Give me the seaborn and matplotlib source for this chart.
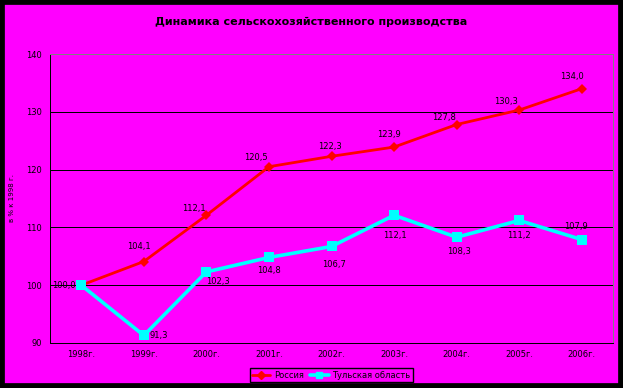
import numpy as np
import pandas as pd
import seaborn as sns
import matplotlib.pyplot as plt
from matplotlib.patches import Rectangle

years = ['1998г.', '1999г.', '2000г.', '2001г.', '2002г.', '2003г.', '2004г.', '2005г.', '2006г.']
russia = [100.0, 104.1, 112.1, 120.5, 122.3, 123.9, 127.8, 130.3, 134.0]
tula = [100.0, 91.3, 102.3, 104.8, 106.7, 112.1, 108.3, 111.2, 107.9]
series_names = ['Россия', 'Тульская область']

# смещения подписей (в пикселях)
russia_off = [(-17, 0), (-5, 15), (-12, 7), (-13, 9), (-2, 10), (-5, 13), (-13, 7), (-13, 9), (-10, 12)]
tula_off = [None, (15, 0), (12, -10), (0, -13), (3, -18), (1, -20), (2, -14), (0, -15), (-6, 13)]

df = pd.DataFrame({
    'x': list(range(len(years))) * 2,
    'value': russia + tula,
    'series': [series_names[0]] * len(years) + [series_names[1]] * len(years),
})

sns.set_style('white')
plt.rcParams['font.family'] = ['DejaVu Sans']
plt.rcParams['text.color'] = 'black'
plt.rcParams['xtick.color'] = 'black'
plt.rcParams['ytick.color'] = 'black'
plt.rcParams['axes.labelcolor'] = 'black'
mag = '#FF00FF'
px = 0.72  # 1 пиксель в пунктах

fig = plt.figure(figsize=(6.23, 3.88), dpi=100, facecolor=mag)
fig.patches.append(Rectangle((0, 0), 1, 1, transform=fig.transFigure, fill=False,
                             edgecolor='black', linewidth=7, zorder=10))
ax = fig.add_axes([50 / 623, 1 - 343 / 388, 563 / 623, 289 / 388])
ax.set_facecolor(mag)

sns.lineplot(data=df, x='x', y='value', hue='series', style='series',
             palette={'Россия': '#FF0000', 'Тульская область': '#00FFFF'},
             markers={'Россия': 'D', 'Тульская область': 's'},
             dashes=False, markersize=6, markeredgewidth=0, linewidth=2,
             sort=False, ax=ax, legend=False)
lines = ax.get_lines()
lines[0].set_markersize(5)
lines[1].set_markersize(7)
lines[1].set_linewidth(2.6)

for i, v in enumerate(russia):
    ax.annotate(f'{v:.1f}'.replace('.', ','), (i, v), xytext=russia_off[i],
                textcoords='offset pixels', ha='center', va='center', fontsize=6)
for i, v in enumerate(tula):
    if tula_off[i] is None:
        continue
    ax.annotate(f'{v:.1f}'.replace('.', ','), (i, v), xytext=tula_off[i],
                textcoords='offset pixels', ha='center', va='center', fontsize=6)

ax.set_xlim(-0.5, len(years) - 0.5)
ax.set_ylim(90, 140)
ax.set_yticks(range(90, 141, 10))
ax.set_xticks(range(len(years)))
ax.set_xticklabels(years)
ax.set_xticks(np.arange(-0.5, len(years)), minor=True)
ax.tick_params(axis='x', which='major', length=0, labelsize=6, pad=5)
ax.tick_params(axis='x', which='minor', length=3, width=px, color='black', direction='out')
ax.tick_params(axis='y', length=3, width=px, color='black', direction='out', labelsize=6, pad=3)
for y in range(100, 140, 10):
    ax.axhline(y, color='black', linewidth=px, zorder=0)
ax.spines['left'].set_color('black')
ax.spines['bottom'].set_color('black')
ax.spines['top'].set_color('#808080')
ax.spines['right'].set_color('#808080')
for s in ax.spines.values():
    s.set_linewidth(px)
ax.set_xlabel('')
ax.set_ylabel('в % к 1998 г.', fontsize=5, labelpad=8)

fig.text(0.5, 1 - 22 / 388, 'Динамика сельскохозяйственного производства',
         ha='center', va='center', fontsize=8, fontweight='bold')

handles = [plt.Line2D([], [], color='#FF0000', marker='D', markersize=4, linewidth=2),
           plt.Line2D([], [], color='#00FFFF', marker='s', markersize=5, linewidth=2.6)]
leg = fig.legend(handles, series_names, loc='center', bbox_to_anchor=(331 / 623, 1 - 375 / 388),
                 ncol=2, fontsize=6, frameon=True, fancybox=False, framealpha=1,
                 facecolor=mag, edgecolor='black', handlelength=2.2, borderpad=0.3,
                 columnspacing=0.8, handletextpad=0.4)
leg.get_frame().set_linewidth(1)

fig.savefig('out.png', dpi=100, facecolor=mag)
